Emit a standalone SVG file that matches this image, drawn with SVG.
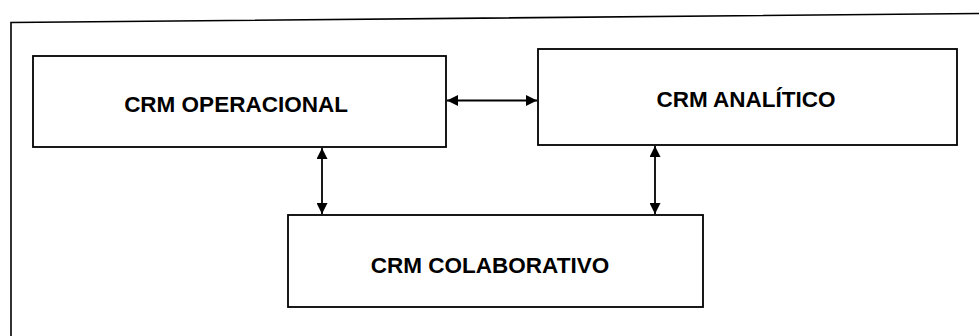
<svg xmlns="http://www.w3.org/2000/svg" width="979" height="336" viewBox="0 0 979 336">
  <defs>
    <style>
      .box { fill: #ffffff; stroke: #000000; stroke-width: 1.8; }
      .frame { fill: none; stroke: #000000; stroke-width: 1.6; }
      .link { fill: none; stroke: #000000; stroke-width: 1.8; marker-start: url(#head); marker-end: url(#head); }
      .label { font-family: "Liberation Sans", Arial, sans-serif; font-weight: bold; font-size: 22.5px; fill: #000000; text-anchor: middle; }
    </style>
    <marker id="head" viewBox="0 0 10 10" refX="10" refY="5" markerWidth="12" markerHeight="11" markerUnits="userSpaceOnUse" orient="auto-start-reverse">
      <path d="M0,0 L10,5 L0,10 Z" fill="#000000"/>
    </marker>
  </defs>
  <rect x="0" y="0" width="979" height="336" fill="#ffffff"/>

  <!-- outer frame (top and left edges) -->
  <g id="frame">
    <path class="frame" d="M11,336 L11,22.5 L979,13.5"/>
  </g>

  <g id="crm-operacional">
    <rect class="box" x="33" y="56" width="413" height="91"/>
    <text class="label" x="236" y="112">CRM OPERACIONAL</text>
  </g>

  <g id="crm-analitico">
    <rect class="box" x="538" y="49" width="419" height="96"/>
    <text class="label" x="746" y="107">CRM ANALÍTICO</text>
  </g>

  <g id="crm-colaborativo">
    <rect class="box" x="288" y="215" width="415" height="92"/>
    <text class="label" x="490" y="273">CRM COLABORATIVO</text>
  </g>

  <g id="connectors">
    <line class="link" x1="447" y1="100.5" x2="537" y2="100.5"/>
    <line class="link" x1="322" y1="148" x2="322" y2="214"/>
    <line class="link" x1="655" y1="146" x2="655" y2="214"/>
  </g>
</svg>
